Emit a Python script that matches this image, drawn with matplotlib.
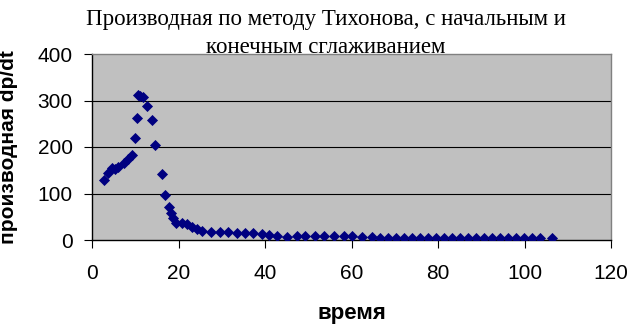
import numpy as np
import matplotlib
matplotlib.use("Agg")
import matplotlib.pyplot as plt

# время (x) and производная dp/dt (y)
t = [2.8, 3.8, 4.6, 5.3, 6.1, 7.3, 8.3, 9.2, 10.0, 10.3, 10.7, 11.2, 11.9, 12.8,
     13.8, 14.6, 16.1, 16.9, 17.8, 18.3, 18.8, 19.4, 20.8, 21.9, 23.1, 24.2,
     25.4, 27.5, 29.5, 31.5, 33.5, 35.4, 37.3, 39.3, 41.0, 42.7, 45.0, 47.4,
     49.3, 51.6, 53.6, 55.9, 58.2, 60.1, 62.4, 64.7, 66.5, 68.4, 70.3, 72.1,
     74.0, 75.8, 77.7, 79.5, 81.4, 83.2, 85.1, 87.0, 88.8, 90.7, 92.5, 94.4,
     96.2, 98.1, 99.9, 101.8, 103.6, 106.4]
dpdt = [129, 144, 154, 153, 157, 165, 174, 183, 219, 262, 312, 310, 307, 289,
        258, 205, 141, 97, 72, 57, 47, 37, 37, 34, 29, 23,
        19, 18, 18, 17, 15, 14, 14, 13, 10, 8, 7, 8,
        8, 9, 9, 8, 8, 8, 7, 7, 5, 5, 5, 5,
        5, 5, 4, 5, 5, 5, 4, 5, 5, 5, 4, 5,
        5, 5, 4, 5, 5, 5]

xticks = [0, 20, 40, 60, 80, 100, 120]
yticks = [0, 100, 200, 300, 400]

title1 = "Производная по методу Тихонова, с начальным и"
title2 = "конечным сглаживанием"

fig = plt.figure(figsize=(6.31, 3.24), dpi=100)
ax = fig.add_axes([92/631, 84/324, 519/631, 186/324])
ax.set_facecolor("#C0C0C0")

ax.scatter(t, dpdt, marker="D", s=32, color="#000080", zorder=3, linewidths=0)

ax.set_xlim(0, 120)
ax.set_ylim(0, 400)
ax.set_xticks(xticks)
ax.set_yticks(yticks)
for y in yticks[1:-1]:
    ax.axhline(y, color="#000000", lw=0.8, zorder=1)

ax.tick_params(axis="both", direction="out", length=6, width=0.8,
               color="#000000", labelsize=15, pad=8)
ax.tick_params(axis="x", pad=11)
for lab in ax.get_xticklabels() + ax.get_yticklabels():
    lab.set_family("Liberation Sans")

ax.spines["left"].set_color("#000000")
ax.spines["bottom"].set_color("#000000")
ax.spines["top"].set_color("#808080")
ax.spines["right"].set_color("#808080")
for s in ax.spines.values():
    s.set_linewidth(1.0)

ax.set_ylabel("производная dp/dt", fontsize=15, fontweight="bold",
              family="Liberation Sans", labelpad=10)
ax.yaxis.set_label_coords(-0.142, 0.5)
fig.text(352/631, 1 - 313/324, "время", fontsize=16, fontweight="bold",
         family="Liberation Sans", ha="center", va="center")

fig.text(326/631, 1 - 25/324, title1, fontsize=16.5, family="Liberation Serif",
         ha="center", va="baseline")
fig.text(326/631, 1 - 53/324, title2, fontsize=16.5, family="Liberation Serif",
         ha="center", va="baseline")

fig.savefig("out.png", dpi=100)
